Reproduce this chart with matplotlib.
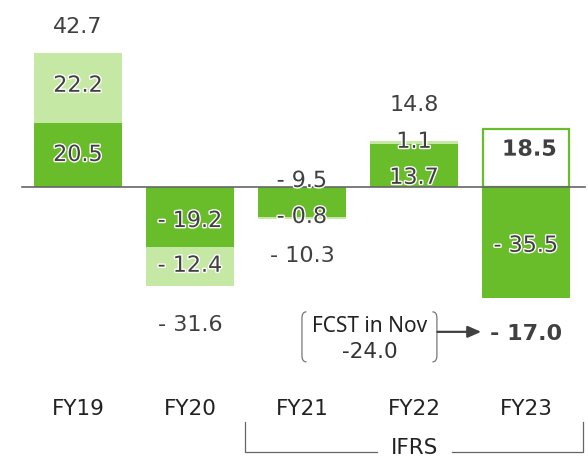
import numpy as np
import matplotlib
matplotlib.use("Agg")
from matplotlib import pyplot as plt
from matplotlib.path import Path
from matplotlib.patches import PathPatch
import matplotlib.patheffects as pe

# data
years = ['FY19', 'FY20', 'FY21', 'FY22', 'FY23']
base_vals = [20.5, -19.2, -9.5, 13.7, -35.5]
extra_vals = [22.2, -12.4, -0.8, 1.1, 18.5]
totals = [42.7, -31.6, -10.3, 14.8, -17.0]
fcst_label = 'FCST in Nov'
fcst_value = -24.0

dark = '#6abd2a'
light = '#c5e9a4'
txt = '#404040'

fig = plt.figure(figsize=(5.88, 4.58), dpi=100)
ax = fig.add_axes([0, 0, 1, 1])
ax.set_xlim(-0.696, 4.554)
ax.set_ylim(-86.6, 59.7)
ax.axis('off')

x = np.arange(len(years))
w = 0.78
halo = [pe.withStroke(linewidth=2, foreground='white')]

def fmt(v):
    return '- %.1f' % abs(v) if v < 0 else '%.1f' % v

# bars FY19-FY22: base + extra stacked
for i in range(4):
    ax.bar(x[i], base_vals[i], w, color=dark, zorder=2)
    ax.bar(x[i], extra_vals[i], w, bottom=base_vals[i], color=light, zorder=1)
# FY23: outlined positive part, filled negative part
ax.bar(x[4], extra_vals[4], w - 0.02, color='white', edgecolor=dark, linewidth=1.6, zorder=2)
ax.bar(x[4], base_vals[4], w, color=dark, zorder=2)

ax.plot([-0.5, 4.527], [0, 0], color='#666666', lw=1.2, zorder=3)

fs = 16
# label y positions (data units)
base_y = [10.2, -10.9, 1.9, 2.9, -18.8]
extra_y = [32.3, -25.2, -9.6, 14.4, 11.9]
total_y = [51.1, -44.1, -22.0, 26.2, -47.0]
for i in range(5):
    ax.text(x[i], base_y[i], fmt(base_vals[i]), ha='center', va='center',
            fontsize=fs, color=txt, path_effects=halo, zorder=5)
    ax.text(x[i] + (0.03 if i == 4 else 0), extra_y[i], fmt(extra_vals[i]),
            ha='center', va='center', fontsize=fs, color=txt,
            fontweight='bold' if i == 4 else 'normal', path_effects=halo, zorder=5)
    ax.text(x[i], total_y[i], fmt(totals[i]), ha='center', va='center',
            fontsize=fs, color=txt, fontweight='bold' if i == 4 else 'normal', zorder=5)

# forecast note
ax.text(2.607, -44.6, fcst_label, ha='center', va='center', fontsize=15,
        family='Noto Sans', color='#222222')
ax.text(2.607, -52.7, '%.1f' % fcst_value, ha='center', va='center', fontsize=15.5,
        color='#333333')

def bracket(xp, top, bot, d):
    verts = [(xp + d, top), (xp, top), (xp, top - 2.0),
             (xp, bot + 2.0), (xp, bot), (xp + d, bot)]
    codes = [Path.MOVETO, Path.CURVE3, Path.CURVE3,
             Path.LINETO, Path.CURVE3, Path.CURVE3]
    ax.add_patch(PathPatch(Path(verts, codes), fill=False, edgecolor='#777777', lw=0.9))

bracket(2.0, -39.9, -55.9, 0.04)
bracket(3.205, -39.9, -55.9, -0.04)
ax.annotate('', xy=(3.6, -46.3), xytext=(3.21, -46.3),
            arrowprops=dict(arrowstyle='-|>,head_length=0.8,head_width=0.35',
                            color='#404040', lw=1.6, shrinkA=0, shrinkB=0))

# x labels
for i, yr in enumerate(years):
    ax.text(x[i], -70.8, yr, ha='center', va='center', fontsize=15.5, color='#222222')

# IFRS bracket
gy = -84.7
ax.plot([1.491, 1.491, 2.67], [-75.1, gy, gy], color='#666666', lw=0.9)
ax.plot([3.34, 4.509, 4.509], [gy, gy, -75.1], color='#666666', lw=0.9)
ax.text(3.009, -83.3, 'IFRS', ha='center', va='center', fontsize=15.5, color='#222222')

fig.savefig('out.png', dpi=100)
